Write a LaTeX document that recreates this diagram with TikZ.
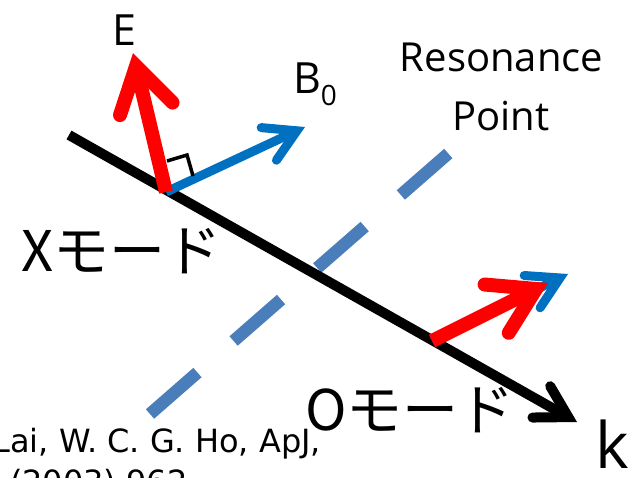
\documentclass[tikz,border=0pt]{standalone}
\usepackage{fontspec}
\setmainfont{Open Sans}
\newfontfamily\jp{Noto Sans CJK JP}
\newfontfamily\reffont{DejaVu Sans}
\usetikzlibrary{arrows.meta}
\definecolor{eRed}{HTML}{FF0000}
\definecolor{bBlue}{HTML}{0070C0}
\definecolor{dBlue}{HTML}{4A7EBB}
\tikzset{
  kline/.style={line width=10pt, black, -{Straight Barb[length=31pt,width=36pt,line cap=round,line join=miter]}},
  bvec/.style={line width=9pt, bBlue, -{Straight Barb[length=31pt,width=36pt,line cap=round,line join=miter]}},
  evec/.style={line width=14pt, eRed, -{Straight Barb[length=44pt,width=54pt,line cap=round,line join=miter]}},
  resline/.style={line width=12.5pt, dBlue, dash pattern=on 63pt off 48pt},
  rmark/.style={line width=3.5pt, black, line join=miter},
  lbl/.style={inner sep=0pt, outer sep=0pt},
}
\begin{document}
\begin{tikzpicture}[x=1pt,y=-1pt]
\useasboundingbox (0,0) rectangle (644,477);
\clip (0,0) rectangle (644,477);
% coordinates
\coordinate (rS) at (150,414);
\coordinate (rE) at (450,152);
\coordinate (kS) at (69,135);
\coordinate (kE) at (577,422);
\coordinate (xO) at (166,192);
\coordinate (xE) at (133,53);
\coordinate (xB) at (305,127);
\coordinate (oO) at (432,341);
\coordinate (oB) at (568,274);
\coordinate (oE) at (548,283);
\coordinate (m1) at (167,161);
\coordinate (m2) at (187,155);
\coordinate (m3) at (193,176);
% resonance line
\draw[resline] (rS) -- (rE);
% wave vector
\draw[kline] (kS) -- (kE);
% B0 vectors
\draw[bvec] (xO) -- (xB);
\draw[bvec] (oO) -- (oB);
% right angle mark
\draw[rmark] (m1) -- (m2) -- (m3);
% E vectors
\draw[evec] (xO) -- (xE);
\draw[evec] (oO) -- (oE);
% labels
\node[lbl, anchor=base west] (tE) at (112,45) {\fontsize{43}{43}\selectfont E};
\node[lbl, anchor=base west] (tB) at (293,93) {\fontsize{43}{43}\selectfont B\raisebox{-12pt}{\fontsize{28}{28}\selectfont 0}};
\node[lbl, anchor=base] (tR1) at (501.5,71) {\fontsize{40}{40}\selectfont Resonance};
\node[lbl, anchor=base] (tR2) at (501,130) {\fontsize{40}{40}\selectfont Point};
\node[lbl, anchor=base west] (tX) at (21,271) {\jp\fontsize{56}{56}\selectfont Xモード};
\node[lbl, anchor=base west] (tO) at (305,430) {\jp\fontsize{56}{56}\selectfont Oモード};
\node[lbl, anchor=base west] (tk) at (595,468) {\fontsize{64}{64}\selectfont k};
\node[lbl, anchor=base east] (tc1) at (321,452) {\reffont\fontsize{32}{32}\selectfont D. Lai, W. C. G. Ho, ApJ,};
\node[lbl, anchor=base west] (tc2) at (10,493) {\reffont\fontsize{32}{32}\selectfont (2003) 962};
\end{tikzpicture}
\end{document}
